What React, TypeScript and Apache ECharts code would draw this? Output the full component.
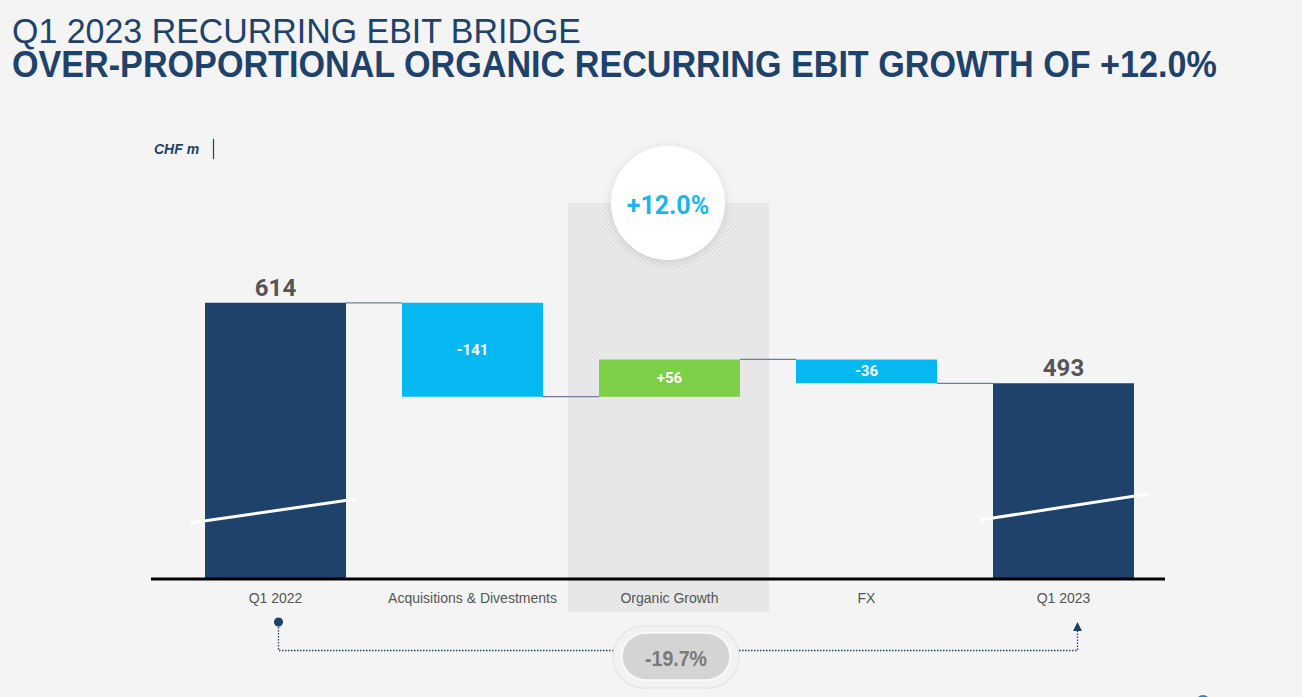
import React, { useEffect, useRef } from "react";
import * as echarts from "echarts";

const categories = ["Q1 2022", "Acquisitions & Divestments", "Organic Growth", "FX", "Q1 2023"];
const startValue = 614;
const deltas = [-141, 56, -36];
const endValue = 493;
const deltaLabels = ["-141", "+56", "-36"];
const organicGrowthLabel = "+12.0%";
const totalChangeLabel = "-19.7%";
const titleLine1 = "Q1 2023 RECURRING EBIT BRIDGE";
const titleLine2 = "OVER-PROPORTIONAL ORGANIC RECURRING EBIT GROWTH OF +12.0%";

const NAVY = "#1f426b";
const CYAN = "#06b8f1";
const GREEN = "#7ecf48";

function hatchUrl(): string {
  const s = 4;
  const c = document.createElement("canvas");
  c.width = s;
  c.height = s;
  const ctx = c.getContext("2d")!;
  ctx.fillStyle = "#eeeeee";
  ctx.fillRect(0, 0, s, s);
  ctx.strokeStyle = "#dddddd";
  ctx.lineWidth = 1.2;
  for (let k = -s; k <= 2 * s; k += s) {
    ctx.beginPath();
    ctx.moveTo(k - 1, -1);
    ctx.lineTo(k + s + 1, s + 1);
    ctx.stroke();
  }
  return c.toDataURL();
}

function measure(text: string, font: string): number {
  const c = document.createElement("canvas");
  const ctx = c.getContext("2d")!;
  ctx.font = font;
  return ctx.measureText(text).width;
}

export default function App() {
  const ref = useRef<HTMLDivElement>(null);
  useEffect(() => {
    if (!ref.current) return;
    const chart = echarts.init(ref.current, undefined, { renderer: "svg" });

    const n = categories.length;
    const base: number[] = [];
    const vis: number[] = [];
    const colors: string[] = [];
    const levels: number[] = [];
    base.push(0);
    vis.push(startValue);
    colors.push(NAVY);
    let run = startValue;
    levels.push(run);
    deltas.forEach((d) => {
      const next = run + d;
      base.push(Math.min(run, next));
      vis.push(Math.abs(d));
      colors.push(d >= 0 ? GREEN : CYAN);
      run = next;
      levels.push(run);
    });
    base.push(0);
    vis.push(endValue);
    colors.push(NAVY);
    levels.push(endValue);

    const BAR_W = 141;
    const hatch = hatchUrl();

    const f1 = "35px 'Liberation Sans', Arial, sans-serif";
    const f2 = "bold 37px 'Liberation Sans', Arial, sans-serif";
    const f3 = "bold 22px 'Liberation Sans', Arial, sans-serif";
    const s1 = 570 / measure(titleLine1, f1);
    const s2 = 1206 / measure(titleLine2, f2);
    const s3 = 62 / measure(totalChangeLabel, f3);

    const option: any = {
      animation: false,
      backgroundColor: "#f4f4f4",
      grid: { left: 177, right: 140, top: 245.5, bottom: 118.5, containLabel: false },
      xAxis: {
        type: "category",
        data: categories,
        axisLine: { show: false },
        axisTick: { show: false },
        axisLabel: {
          color: "#555",
          fontSize: 14,
          fontFamily: "Liberation Sans, Arial, sans-serif",
          margin: 12,
          interval: 0,
        },
        z: 5,
      },
      yAxis: {
        type: "value",
        min: 200,
        max: 700,
        show: false,
        splitLine: { show: false },
      },
      series: [
        {
          type: "bar",
          stack: "w",
          barWidth: BAR_W,
          data: base,
          itemStyle: { color: "transparent" },
          silent: true,
          z: 3,
        },
        {
          type: "bar",
          stack: "w",
          barWidth: BAR_W,
          z: 3,
          data: vis.map((v, i) => {
            const isTotal = i === 0 || i === n - 1;
            return {
              value: v,
              itemStyle: { color: colors[i] },
              label: isTotal
                ? {
                    show: true,
                    position: "top",
                    distance: 3,
                    formatter: String(i === 0 ? startValue : endValue),
                    color: "#555",
                    fontSize: 24,
                    fontWeight: "bold",
                    fontFamily: "Roboto, sans-serif",
                  }
                : {
                    show: true,
                    position: "inside",
                    formatter: deltaLabels[i - 1],
                    color: "#fff",
                    fontSize: 15,
                    fontWeight: "bold",
                    fontFamily: "Roboto, sans-serif",
                  },
            };
          }),
        },
        {
          type: "custom",
          z: 4,
          silent: true,
          data: levels.slice(0, n - 1).map((lv, i) => [i, lv]),
          renderItem: (params: any, api: any) => {
            const i = api.value(0);
            const lv = api.value(1);
            const p1 = api.coord([i, lv]);
            const p2 = api.coord([i + 1, lv]);
            return {
              type: "line",
              shape: { x1: p1[0] + BAR_W / 2, y1: p1[1], x2: p2[0] - BAR_W / 2, y2: p2[1] },
              style: { stroke: "#6d7f98", lineWidth: 1.2 },
            };
          },
        },
      ],
      graphic: {
        elements: [
          {
            type: "text",
            x: 12,
            y: 31,
            scaleX: s1,
            z: 10,
            style: { text: titleLine1, fill: NAVY, font: f1, textVerticalAlign: "middle" },
          },
          {
            type: "text",
            x: 12,
            y: 65,
            scaleX: s2,
            z: 10,
            style: { text: titleLine2, fill: NAVY, font: f2, textVerticalAlign: "middle" },
          },
          {
            type: "text",
            x: 154,
            y: 149,
            z: 10,
            style: {
              text: "CHF m",
              fill: NAVY,
              font: "italic bold 14px Arial, 'Liberation Sans', sans-serif",
              textVerticalAlign: "middle",
            },
          },
          {
            type: "line",
            z: 10,
            shape: { x1: 213.5, y1: 139, x2: 213.5, y2: 159 },
            style: { stroke: NAVY, lineWidth: 1.2 },
          },
          {
            type: "rect",
            z: -10,
            shape: { x: 568, y: 203, width: 201, height: 409 },
            style: { fill: { image: hatch, repeat: "repeat" } as any },
          },
          {
            type: "line",
            z: 20,
            shape: { x1: 151, y1: 579, x2: 1165, y2: 579 },
            style: { stroke: "#000", lineWidth: 3 },
          },
          {
            type: "circle",
            z: 20,
            shape: { cx: 668, cy: 203, r: 57 },
            style: {
              fill: "#fff",
              shadowBlur: 10,
              shadowColor: "rgba(0,0,0,0.12)",
              shadowOffsetY: 2,
            },
          },
          {
            type: "text",
            z: 21,
            x: 668,
            y: 205,
            style: {
              text: organicGrowthLabel,
              fill: "#19b6ec",
              font: "bold 25px Roboto, sans-serif",
              textAlign: "center",
              textVerticalAlign: "middle",
            },
          },
          {
            type: "line",
            z: 20,
            shape: { x1: 190, y1: 523, x2: 356, y2: 499 },
            style: { stroke: "#fff", lineWidth: 3 },
          },
          {
            type: "line",
            z: 20,
            shape: { x1: 980, y1: 520, x2: 1148, y2: 494 },
            style: { stroke: "#fff", lineWidth: 3 },
          },
          {
            type: "polyline",
            z: 10,
            shape: { points: [[278.5, 624], [278.5, 650.5], [614, 650.5]] },
            style: { stroke: NAVY, lineWidth: 1.3, lineDash: [1.5, 1.5], fill: "none" },
          },
          {
            type: "polyline",
            z: 10,
            shape: { points: [[739, 650.5], [1077.5, 650.5], [1077.5, 630]] },
            style: { stroke: NAVY, lineWidth: 1.3, lineDash: [1.5, 1.5], fill: "none" },
          },
          {
            type: "circle",
            z: 11,
            shape: { cx: 278.5, cy: 622, r: 4.5 },
            style: { fill: NAVY },
          },
          {
            type: "polygon",
            z: 11,
            shape: { points: [[1077.5, 622], [1073, 631], [1082, 631]] },
            style: { fill: NAVY },
          },
          {
            type: "rect",
            z: 11,
            shape: { x: 613, y: 626, width: 126, height: 62, r: 31 },
            style: { fill: "#f2f2f2", stroke: "#e6e6e6", lineWidth: 1.5 },
          },
          {
            type: "rect",
            z: 12,
            shape: { x: 622, y: 633, width: 108, height: 47, r: 23.5 },
            style: { fill: "#d4d4d4", stroke: "#fafafa", lineWidth: 1.5 },
          },
          {
            type: "text",
            z: 13,
            x: 676,
            y: 658,
            scaleX: s3,
            style: {
              text: totalChangeLabel,
              fill: "#7a7a7a",
              font: f3,
              textAlign: "center",
              textVerticalAlign: "middle",
            },
          },
          {
            type: "circle",
            z: 11,
            shape: { cx: 1203, cy: 702, r: 7 },
            style: { fill: "#1b86c6" },
          },
        ],
      },
    };
    chart.setOption(option);
    return () => chart.dispose();
  }, []);
  return (
    <div
      ref={ref}
      style={{ position: "fixed", left: 0, top: 0, width: 1302, height: 697 }}
    />
  );
}
